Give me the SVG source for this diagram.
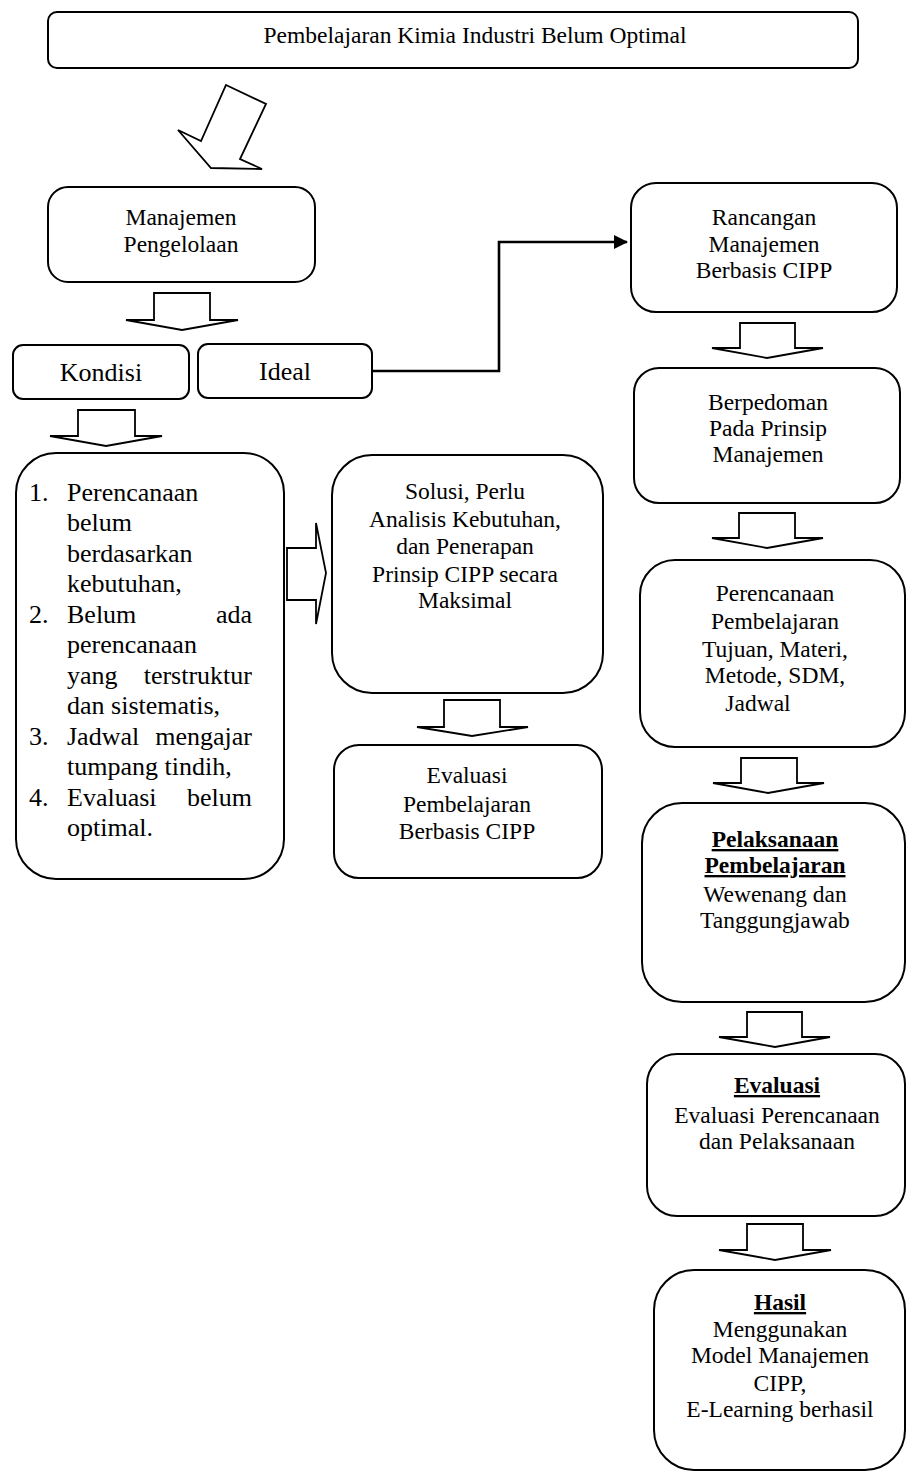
<svg xmlns="http://www.w3.org/2000/svg" width="906" height="1472" viewBox="0 0 906 1472" font-family="'Liberation Serif', 'Times New Roman', Tinos, 'DejaVu Serif', serif">
<style>
.box{fill:#fff;stroke:#000;stroke-width:2}
.ba{fill:#fff;stroke:#000;stroke-width:1.8;stroke-linejoin:miter}
text{font-family:'Liberation Serif','Times New Roman',Tinos,'DejaVu Serif',serif;fill:#000}
.t{font-size:23.5px;text-anchor:middle}
.L{font-size:26px}
.c{text-anchor:middle}
.e{text-anchor:end}
.h{font-weight:bold;text-decoration:underline}
.conn{fill:none;stroke:#000;stroke-width:2.6}
</style>
<defs>
<marker id="ah" markerWidth="16" markerHeight="16" refX="13" refY="7" orient="auto" markerUnits="userSpaceOnUse">
<path d="M0,0 L14,7 L0,14 Z" fill="#000"/>
</marker>
</defs>
<rect width="906" height="1472" fill="#fff"/>

<g id="title">
<rect class="box" x="48" y="12" width="810" height="56" rx="9"/>
<text class="t" x="475" y="43">Pembelajaran Kimia Industri Belum Optimal</text>
</g>

<g id="skew-arrow">
<polygon class="ba" points="226,85 266,104 240,159 262,169 211,168 178,130 201,141"/>
</g>

<g id="manajemen">
<rect class="box" x="48" y="187" width="267" height="95" rx="20"/>
<text class="t" x="181" y="225">Manajemen</text>
<text class="t" x="181" y="252">Pengelolaan</text>
</g>

<g id="kondisi">
<rect class="box" x="13" y="345" width="176" height="54" rx="10"/>
<text class="L c" x="101" y="381">Kondisi</text>
</g>

<g id="ideal">
<rect class="box" x="198" y="344" width="174" height="54" rx="10"/>
<text class="L c" x="285" y="380">Ideal</text>
</g>

<g id="list">
<rect class="box" x="16" y="453" width="268" height="426" rx="40"/>
<g class="L">
<text x="29" y="501">1.</text><text x="67" y="501">Perencanaan</text>
<text x="67" y="531">belum</text>
<text x="67" y="562">berdasarkan</text>
<text x="67" y="592">kebutuhan,</text>
<text x="29" y="623">2.</text><text x="67" y="623">Belum</text><text class="e" x="252" y="623">ada</text>
<text x="67" y="653">perencanaan</text>
<text x="67" y="684">yang</text><text class="e" x="252" y="684">terstruktur</text>
<text x="67" y="714">dan sistematis,</text>
<text x="29" y="745">3.</text><text x="67" y="745">Jadwal</text><text class="e" x="252" y="745">mengajar</text>
<text x="67" y="775">tumpang tindih,</text>
<text x="29" y="806">4.</text><text x="67" y="806">Evaluasi</text><text class="e" x="252" y="806">belum</text>
<text x="67" y="836">optimal.</text>
</g>
</g>

<g id="solusi">
<rect class="box" x="332" y="455" width="271" height="238" rx="40"/>
<text class="t" x="465" y="499">Solusi, Perlu</text>
<text class="t" x="465" y="527">Analisis Kebutuhan,</text>
<text class="t" x="465" y="554">dan Penerapan</text>
<text class="t" x="465" y="582">Prinsip CIPP secara</text>
<text class="t" x="465" y="608">Maksimal</text>
</g>

<g id="evaluasi-cipp">
<rect class="box" x="334" y="745" width="268" height="133" rx="25"/>
<text class="t" x="467" y="783">Evaluasi</text>
<text class="t" x="467" y="812">Pembelajaran</text>
<text class="t" x="467" y="839">Berbasis CIPP</text>
</g>

<g id="rancangan">
<rect class="box" x="631" y="183" width="266" height="129" rx="25"/>
<text class="t" x="764" y="225">Rancangan</text>
<text class="t" x="764" y="252">Manajemen</text>
<text class="t" x="764" y="278">Berbasis CIPP</text>
</g>

<g id="berpedoman">
<rect class="box" x="634" y="368" width="266" height="135" rx="25"/>
<text class="t" x="768" y="410">Berpedoman</text>
<text class="t" x="768" y="436">Pada Prinsip</text>
<text class="t" x="768" y="462">Manajemen</text>
</g>

<g id="perencanaan">
<rect class="box" x="640" y="560" width="265" height="187" rx="35"/>
<text class="t" x="775" y="601">Perencanaan</text>
<text class="t" x="775" y="629">Pembelajaran</text>
<text class="t" x="775" y="657">Tujuan, Materi,</text>
<text class="t" x="775" y="683">Metode, SDM,</text>
<text class="t" x="758" y="711">Jadwal</text>
</g>

<g id="pelaksanaan">
<rect class="box" x="642" y="803" width="263" height="199" rx="40"/>
<text class="t h" x="775" y="847">Pelaksanaan</text>
<text class="t h" x="775" y="873">Pembelajaran</text>
<text class="t" x="775" y="902">Wewenang dan</text>
<text class="t" x="775" y="928">Tanggungjawab</text>
</g>

<g id="evaluasi">
<rect class="box" x="647" y="1054" width="258" height="162" rx="30"/>
<text class="t h" x="777" y="1093">Evaluasi</text>
<text class="t" x="777" y="1123">Evaluasi Perencanaan</text>
<text class="t" x="777" y="1149">dan Pelaksanaan</text>
</g>

<g id="hasil">
<rect class="box" x="654" y="1270" width="251" height="200" rx="40"/>
<text class="t h" x="780" y="1310">Hasil</text>
<text class="t" x="780" y="1337">Menggunakan</text>
<text class="t" x="780" y="1363">Model Manajemen</text>
<text class="t" x="780" y="1391">CIPP,</text>
<text class="t" x="780" y="1417">E-Learning berhasil</text>
</g>

<g id="connectors">
<polyline class="conn" points="372,371 499,371 499,242 627,242" marker-end="url(#ah)"/>
<polygon class="ba" points="154,293 210,293 210,320 238,320 182,330 126,320 154,320"/>
<polygon class="ba" points="78,410 135,410 135,436 162,436 106,446 50,436 78,436"/>
<polygon class="ba" points="444,700 500,700 500,727 528,727 472,736 417,727 444,727"/>
<polygon class="ba" points="740,323 795,323 795,348 823,348 767,358 712,348 740,348"/>
<polygon class="ba" points="739,513 795,513 795,538 823,538 767,548 712,538 739,538"/>
<polygon class="ba" points="741,758 797,758 797,783 824,783 768,793 713,783 741,783"/>
<polygon class="ba" points="747,1012 802,1012 802,1037 830,1037 775,1047 719,1037 747,1037"/>
<polygon class="ba" points="747,1224 803,1224 803,1250 831,1250 775,1260 719,1250 747,1250"/>
<polygon class="ba" points="287,548 316,548 316,523 326,573 316,624 316,600 287,600"/>
</g>
</svg>
